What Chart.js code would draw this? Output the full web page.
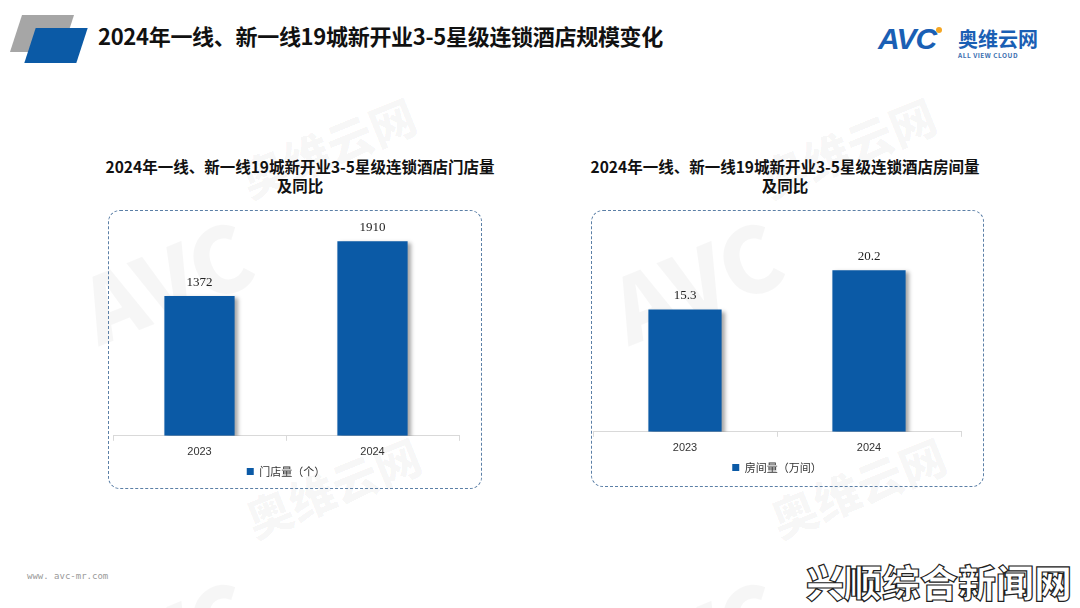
<!DOCTYPE html>
<html>
<head>
<meta charset="utf-8">
<script src="https://cdn.jsdelivr.net/npm/chart.js@4.4.1/dist/chart.umd.min.js"></script>
<style>
  html, body { margin: 0; padding: 0; background: #fff; }
  body { width: 1080px; height: 608px; position: relative; overflow: hidden; font-family: "Noto Sans CJK SC", "Noto Sans", sans-serif; }
  .abs { position: absolute; }
  .wm { position: absolute; color: rgba(0,0,0,0.035); font-weight: 900; white-space: nowrap; transform-origin: left top; }
  .deco1 { left: 16px; top: 15px; width: 52px; height: 37px; background: #a6a6a6; transform: skewX(-18deg); }
  .deco2 { left: 30px; top: 28px; width: 52px; height: 35px; background: #0b5aa6; transform: skewX(-18deg); }
  .title { left: 98px; top: 19px; font-size: 22px; font-weight: 700; color: #111; letter-spacing: -0.3px; }
  .ctitle { font-size: 15.5px; font-weight: 700; color: #111; text-align: center; line-height: 19px; }
  .box { border: 1.5px dashed #5b7fa6; border-radius: 12px; box-sizing: border-box; }
  .logo { left: 878px; top: 22px; color: #1a5fb4; }
</style>
</head>
<body>
<!-- watermarks -->
<div class="wm" style="left:60px;top:250px;font-size:90px;transform:rotate(-22deg);">AVC</div>
<div class="wm" style="left:230px;top:150px;font-size:46px;transform:rotate(-22deg);">奥维云网</div>
<div class="wm" style="left:590px;top:250px;font-size:90px;transform:rotate(-22deg);">AVC</div>
<div class="wm" style="left:750px;top:150px;font-size:46px;transform:rotate(-22deg);">奥维云网</div>
<div class="wm" style="left:60px;top:610px;font-size:90px;transform:rotate(-22deg);">AVC</div>
<div class="wm" style="left:590px;top:610px;font-size:90px;transform:rotate(-22deg);">AVC</div>
<div class="wm" style="left:235px;top:490px;font-size:46px;transform:rotate(-22deg);">奥维云网</div>
<div class="wm" style="left:760px;top:490px;font-size:46px;transform:rotate(-22deg);">奥维云网</div>

<div class="abs deco1"></div>
<div class="abs deco2"></div>
<div class="abs title">2024年一线、新一线19城新开业3-5星级连锁酒店规模变化</div>

<div class="abs logo">
  <span style="font-family:'Liberation Sans',sans-serif;font-weight:900;font-style:italic;font-size:30px;letter-spacing:-1px;">AVC</span><span style="display:inline-block;width:6px;height:6px;border-radius:3px;background:#f5a623;position:relative;top:-16px;"></span>
  <span style="position:absolute;left:80px;top:2px;font-size:20px;font-weight:700;white-space:nowrap;">奥维云网</span>
  <span style="position:absolute;left:80px;top:28px;font-size:6.5px;font-weight:700;white-space:nowrap;letter-spacing:0.5px;color:#3b6fb0;">ALL VIEW CLOUD</span>
</div>

<div class="abs ctitle" style="left:100px;top:157px;width:400px;">2024年一线、新一线19城新开业3-5星级连锁酒店门店量<br>及同比</div>
<div class="abs ctitle" style="left:585px;top:157px;width:400px;">2024年一线、新一线19城新开业3-5星级连锁酒店房间量<br>及同比</div>

<div class="abs box" style="left:108px;top:210px;width:374px;height:279px;"></div>
<div class="abs box" style="left:591px;top:210px;width:393px;height:277px;"></div>

<div class="abs" style="left:108px;top:210px;width:374px;height:279px;"><canvas id="chart_stores"></canvas></div>
<div class="abs" style="left:591px;top:210px;width:393px;height:277px;"><canvas id="chart_rooms"></canvas></div>

<div class="abs" style="left:27px;top:571px;font-family:'DejaVu Sans Mono',monospace;font-size:9px;color:#999;">www. avc-mr.com</div>
<div class="abs" style="left:806px;top:553px;font-size:38px;font-weight:900;color:#fff;-webkit-text-stroke:1.2px #222;letter-spacing:0px;white-space:nowrap;">兴顺综合新闻网</div>

<script>
const years = ['2023', '2024'];
const storeCounts = [1372, 1910];
const roomCounts = [15.3, 20.2];
const storeLabel = '门店量（个）';
const roomLabel = '房间量（万间）';
const barColor = '#0b5aa6';

// value labels above bars + soft shadow like the original
const barExtras = {
    id: 'barExtras',
    beforeDatasetsDraw(chart) {
        const ctx = chart.ctx;
        ctx.save();
        ctx.shadowColor = 'rgba(0,0,0,0.35)';
        ctx.shadowOffsetX = 3;
        ctx.shadowOffsetY = 2;
        ctx.shadowBlur = 4;
    },
    afterDatasetsDraw(chart) {
        const ctx = chart.ctx;
        ctx.restore();
        ctx.save();
        ctx.font = '13px "Liberation Serif", serif';
        ctx.fillStyle = '#222';
        ctx.textAlign = 'center';
        ctx.textBaseline = 'bottom';
        const meta = chart.getDatasetMeta(0);
        meta.data.forEach(function(bar, i) {
            ctx.fillText(String(chart.data.datasets[0].data[i]), bar.x, bar.y - 7);
        });
        ctx.restore();
    }
};

function makeChart(id, label, data, yMax, pad, barPct) {
    let ctx = document.getElementById(id).getContext('2d');
    return new Chart(ctx, {
        type: 'bar',
        data: {
            labels: years,
            datasets: [{
                label: label,
                data: data,
                backgroundColor: barColor,
                barPercentage: barPct,
                categoryPercentage: 1
            }]
        },
        options: {
            responsive: true,
            maintainAspectRatio: false,
            animation: false,
            layout: { padding: pad },
            plugins: {
                legend: {
                    position: 'bottom',
                    labels: {
                        boxWidth: 7, boxHeight: 7, padding: 2,
                        color: '#333',
                        font: { size: 11, family: '"Noto Sans CJK SC", sans-serif' }
                    }
                },
                tooltip: { enabled: false }
            },
            scales: {
                x: {
                    grid: { drawOnChartArea: false, drawTicks: true, tickLength: 5, color: '#d9d9d9' },
                    border: { display: true, color: '#d9d9d9' },
                    ticks: { color: '#333', padding: 5, font: { size: 11, family: '"Liberation Sans", sans-serif' } }
                },
                y: { display: false, min: 0, max: yMax }
            }
        },
        plugins: [barExtras]
    });
}

makeChart('chart_stores', storeLabel, storeCounts, 2100, { top: 12, left: 5, right: 23, bottom: 2 }, 0.406);
makeChart('chart_rooms', roomLabel, roomCounts, 25, { top: 22, left: 2, right: 23, bottom: 4 }, 0.398);
</script>
</body>
</html>
